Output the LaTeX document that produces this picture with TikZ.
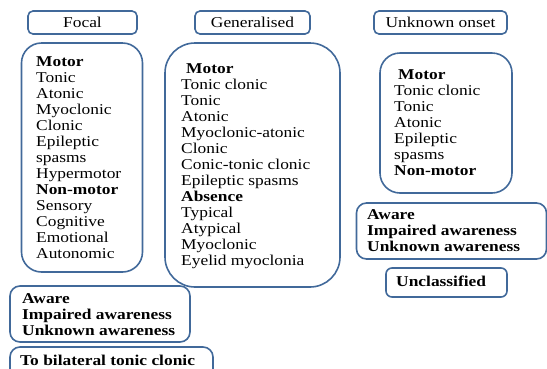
\documentclass[tikz,border=0pt]{standalone}
\usepackage{fontspec}
\setmainfont{Liberation Serif}
\definecolor{boxline}{HTML}{41699A}
\newcommand\sx[1]{\scalebox{1.16}[1]{#1}}
\begin{document}
\begin{tikzpicture}[x=1pt,y=-1pt,
  box/.style={draw=boxline, line width=1.6pt, inner sep=0pt, fill=none},
  txt/.style={inner sep=0pt, anchor=base west, font=\fontsize{15}{16}\selectfont, text=black}]
\useasboundingbox (0,0) rectangle (547,368);
\clip (0,0) rectangle (547,368);
% header boxes
\node[box, rounded corners=5pt, minimum width=109pt, minimum height=23pt] (hfocal) at (82.5,22.5) {};
\node[box, rounded corners=5pt, minimum width=115pt, minimum height=23pt] (hgen) at (252.5,22.5) {};
\node[box, rounded corners=5pt, minimum width=133pt, minimum height=23pt] (hunk) at (440.5,22.5) {};
\node[txt, anchor=base] (thfocal) at (82.5,27.5) {\sx{Focal}};
\node[txt, anchor=base] (thgen) at (252.5,27.5) {\sx{Generalised}};
\node[txt, anchor=base] (thunk) at (440.5,27.5) {\sx{Unknown onset}};
% content boxes
\node[box, rounded corners=20pt, minimum width=121pt, minimum height=229pt] (bfocal) at (82,157.5) {};
\node[box, rounded corners=30pt, minimum width=175pt, minimum height=244pt] (bgen) at (252.5,165) {};
\node[box, rounded corners=20pt, minimum width=132pt, minimum height=140pt] (bunk) at (446,123) {};
\node[box, rounded corners=10pt, minimum width=190pt, minimum height=56pt] (bawr) at (451.5,231) {};
\node[box, rounded corners=6pt, minimum width=121pt, minimum height=29pt] (bunc) at (446.5,282.5) {};
\node[box, rounded corners=10pt, minimum width=180pt, minimum height=56pt] (bawl) at (100,314) {};
\node[box, rounded corners=10pt, minimum width=203pt, minimum height=40pt] (bbil) at (111.5,367) {};
% texts
\foreach \t [count=\i] in {\textbf{Motor},Tonic,Atonic,Myoclonic,Clonic,Epileptic,spasms,Hypermotor,\textbf{Non-motor},Sensory,Cognitive,Emotional,Autonomic}
  \node[txt] (f\i) at (36,66+16*\i-16) {\sx{\t}};
\node[txt] (g1) at (186,73) {\sx{\textbf{Motor}}};
\foreach \t [count=\i from 2] in {Tonic clonic,Tonic,Atonic,Myoclonic-atonic,Clonic,Conic-tonic clonic,Epileptic spasms,\textbf{Absence},Typical,Atypical,Myoclonic,Eyelid myoclonia}
  \node[txt] (g\i) at (181,89+16*\i-32) {\sx{\t}};
\node[txt] (u1) at (398,79) {\sx{\textbf{Motor}}};
\foreach \t [count=\i from 2] in {Tonic clonic,Tonic,Atonic,Epileptic,spasms,\textbf{Non-motor}}
  \node[txt] (u\i) at (394,95+16*\i-32) {\sx{\t}};
\foreach \t [count=\i] in {Aware,Impaired awareness,Unknown awareness}
  \node[txt, font=\fontsize{15}{16}\selectfont\bfseries] (r\i) at (367,219+16*\i-16) {\sx{\t}};
\node[txt, font=\fontsize{15}{16}\selectfont\bfseries] (unc) at (396,286) {\sx{Unclassified}};
\foreach \t [count=\i] in {Aware,Impaired awareness,Unknown awareness}
  \node[txt, font=\fontsize{15}{16}\selectfont\bfseries] (l\i) at (22,303+16*\i-16) {\sx{\t}};
\node[txt, font=\fontsize{15}{16}\selectfont\bfseries] (bil) at (20,365) {\sx{To bilateral tonic clonic}};
\end{tikzpicture}
\end{document}
